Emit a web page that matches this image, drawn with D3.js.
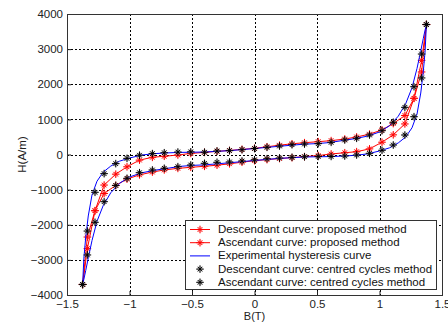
<!DOCTYPE html>
<html>
<head>
<meta charset="utf-8">
<script src="https://cdn.jsdelivr.net/npm/d3@7"></script>
<style>
  body { margin: 0; background: #fff; }
  svg text { font-family: 'Liberation Sans', Arial, sans-serif; }
</style>
</head>
<body>
<svg class="hyst" width="448" height="322"></svg>
<script>
// flux density grid shared by the marker series (T)
const bGrid = [-1.375, -1.337, -1.276, -1.203, -1.11, -1.02, -0.92, -0.817, -0.722, -0.613, -0.51,
  -0.4, -0.3, -0.2, -0.1, 0, 0.1, 0.2, 0.3, 0.4,
  0.51, 0.613, 0.722, 0.817, 0.92, 1.02, 1.11, 1.203, 1.276, 1.337, 1.375];

// proposed method (red)
const redDesc = [-3700, -2350, -1600, -870, -560, -350, -160, -80, -50, -15, 30,
  60, 90, 115, 145, 176, 220, 265, 305, 336,
  365, 395, 440, 500, 580, 700, 880, 1110, 1600, 2680, 3700];
const redAsc = [-3700, -2680, -1600, -1110, -880, -700, -580, -500, -440, -395, -365,
  -336, -305, -265, -220, -176, -145, -115, -90, -60,
  -30, 15, 50, 80, 160, 350, 560, 870, 1600, 2350, 3700];

// centred cycles method (black)
const blackDesc = [-3700, -2180, -1076, -545, -260, -110, -20, 25, 50, 70, 75,
  65, 100, 110, 137, 170, 205, 242, 279, 299,
  310, 347, 413, 461, 555, 678, 917, 1343, 1930, 2860, 3700];
const blackAsc = [-3700, -2860, -1930, -1343, -880, -678, -518, -441, -393, -347, -299,
  -251, -222, -213, -185, -150, -120, -100, -80, -65,
  -55, -55, -43, -14, 34, 120, 270, 555, 1076, 2180, 3700];

// experimental loop (blue), its own sampling
const blueB = [-1.375, -1.365, -1.35, -1.33, -1.3, -1.26, -1.21, -1.15, -1.08, -1.0, -0.9, -0.8, -0.7, -0.6, -0.5,
  -0.4, -0.2, 0, 0.2, 0.4, 0.5, 0.6, 0.7, 0.8, 0.9, 1.0, 1.08, 1.15, 1.21, 1.26, 1.3, 1.33, 1.35, 1.365, 1.375];
const blueDesc = [-3700, -2950, -2350, -1750, -1150, -760, -500, -330, -190, -100, -15, 25, 45, 60, 65,
  70, 110, 170, 235, 295, 310, 340, 395, 450, 520, 640, 820, 1090, 1450, 1900, 2450, 2950, 3300, 3550, 3700];
const blueAsc = [-3700, -3550, -3300, -2950, -2450, -1900, -1450, -1090, -820, -640, -520, -450, -395, -340, -310,
  -295, -235, -170, -110, -70, -65, -60, -45, -25, 15, 100, 190, 330, 500, 760, 1150, 1750, 2350, 2950, 3700];

const xTicks = [-1.5, -1, -0.5, 0, 0.5, 1, 1.5];
const yTicks = [-4000, -3000, -2000, -1000, 0, 1000, 2000, 3000, 4000];

const legendLabels = [
  'Descendant curve: proposed method',
  'Ascendant curve: proposed method',
  'Experimental hysteresis curve',
  'Descendant curve: centred cycles method',
  'Ascendant curve: centred cycles method'
];

const svg = d3.select('svg.hyst'),
  margin = { top: 14, right: 6, bottom: 27, left: 67 },
  width = +svg.attr('width') - margin.left - margin.right,
  height = +svg.attr('height') - margin.top - margin.bottom;

const x = d3.scaleLinear().domain([-1.5, 1.5]).range([0, width]);
const y = d3.scaleLinear().domain([-4000, 4000]).range([height, 0]);

const g = svg.append('g')
  .attr('transform', 'translate(' + margin.left + ',' + margin.top + ')');

// grid (dotted, matlab style)
g.append('g')
  .selectAll('line')
  .data(xTicks.slice(1, -1))
  .enter().append('line')
  .attr('x1', d => Math.round(x(d)) + 0.5).attr('x2', d => Math.round(x(d)) + 0.5)
  .attr('y1', 0).attr('y2', height)
  .attr('stroke', '#000').attr('stroke-dasharray', '2,2').attr('stroke-width', 1);
g.append('g')
  .selectAll('line')
  .data(yTicks.slice(1, -1))
  .enter().append('line')
  .attr('y1', d => Math.round(y(d)) + 0.5).attr('y2', d => Math.round(y(d)) + 0.5)
  .attr('x1', 0).attr('x2', width)
  .attr('stroke', '#000').attr('stroke-dasharray', '2,2').attr('stroke-width', 1);

// axes: ticks point inward, labels outside
const xAxis = g.append('g')
  .attr('transform', 'translate(0,' + height + ')')
  .call(d3.axisBottom(x).tickValues(xTicks).tickSize(-4).tickPadding(5).tickFormat(d3.format('')));
const yAxis = g.append('g')
  .call(d3.axisLeft(y).tickValues(yTicks).tickSize(-4).tickPadding(4).tickFormat(d3.format('')));
[xAxis, yAxis].forEach(a => {
  a.select('.domain').remove();
  a.selectAll('line').attr('stroke', '#222');
  a.selectAll('text').attr('font-size', 11.5).attr('fill', '#222')
    .attr('font-family', "'Liberation Sans', Arial, sans-serif");
});

g.append('rect')
  .attr('x', 0.5).attr('y', 0.5)
  .attr('width', width).attr('height', height)
  .attr('fill', 'none').attr('stroke', '#333');

// axis titles
g.append('text')
  .attr('text-anchor', 'middle')
  .attr('transform', 'translate(' + (width / 2) + ',' + (height + 25) + ')')
  .attr('font-size', 11).attr('fill', '#222')
  .text('B(T)');
g.append('text')
  .attr('text-anchor', 'middle')
  .attr('transform', 'translate(-41,' + (height / 2) + ')rotate(-90)')
  .attr('font-size', 11.5).attr('fill', '#222')
  .text('H(A/m)');

const line = d3.line().x(d => x(d[0])).y(d => y(d[1]));
const pairs = (bs, hs) => bs.map((b, i) => [b, hs[i]]);

function star(sel, color, r) {
  sel.append('path')
    .attr('d', 'M' + (-r) + ',0H' + r + 'M0,' + (-r) + 'V' + r +
      'M' + (-r * 0.6) + ',' + (-r * 0.6) + 'L' + (r * 0.6) + ',' + (r * 0.6) +
      'M' + (-r * 0.6) + ',' + (r * 0.6) + 'L' + (r * 0.6) + ',' + (-r * 0.6))
    .attr('stroke', color).attr('stroke-width', 1).attr('fill', 'none');
}

function markers(data, color, halo) {
  const m = g.append('g').selectAll('g')
    .data(data)
    .enter().append('g')
    .attr('transform', d => 'translate(' + x(d[0]) + ',' + y(d[1]) + ')');
  m.append('circle').attr('r', 3).attr('fill', halo).attr('opacity', 0.45);
  m.each(function() { star(d3.select(this), color, 3.8); });
}

// red: proposed method
[redDesc, redAsc].forEach(hs => {
  g.append('path').datum(pairs(bGrid, hs)).attr('d', line)
    .attr('fill', 'none').attr('stroke', '#ff0000').attr('stroke-width', 1);
});
[redDesc, redAsc].forEach(hs => markers(pairs(bGrid, hs), '#ff0000', '#ffaaaa'));

// blue: experimental
[blueDesc, blueAsc].forEach(hs => {
  g.append('path').datum(pairs(blueB, hs)).attr('d', line)
    .attr('fill', 'none').attr('stroke', '#0000ff').attr('stroke-width', 1);
});

// black: centred cycles
[blackDesc, blackAsc].forEach(hs => markers(pairs(bGrid, hs), '#000', '#aaa'));

// legend
const lg = svg.append('g').attr('transform', 'translate(185,220)');
lg.append('rect')
  .attr('x', 0.5).attr('y', 0.5).attr('width', 251).attr('height', 69)
  .attr('fill', '#fff').attr('stroke', '#333');
const items = lg.selectAll('g.item')
  .data(legendLabels)
  .enter().append('g')
  .attr('class', 'item')
  .attr('transform', (d, i) => 'translate(0,' + (9 + i * 13.2) + ')');
items.each(function(d, i) {
  const it = d3.select(this);
  if (i < 3) {
    it.append('line').attr('x1', 5).attr('x2', 25).attr('y1', 0.5).attr('y2', 0.5)
      .attr('stroke', i < 2 ? '#ff0000' : '#0000ff');
  }
  if (i !== 2) {
    const c = i < 2 ? '#ff0000' : '#000';
    const mk = it.append('g').attr('transform', 'translate(15,0.5)');
    mk.append('circle').attr('r', 3).attr('fill', i < 2 ? '#ffaaaa' : '#aaa').attr('opacity', 0.45);
    star(mk, c, 3.8);
  }
  it.append('text').attr('x', 33).attr('y', 4).attr('font-size', 11.5).attr('fill', '#111').text(d);
});
</script>
</body>
</html>
